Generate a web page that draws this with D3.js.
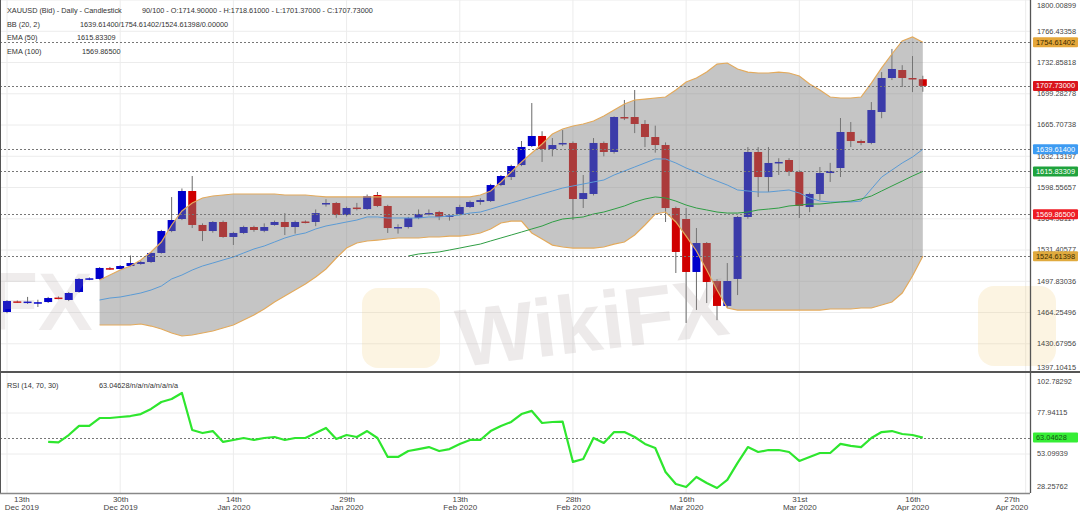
<!DOCTYPE html>
<html>
<head>
<meta charset="utf-8">
<title>XAUUSD Daily Candlestick</title>
<script src="https://d3js.org/d3.v7.min.js"></script>
<style>
  body { margin: 0; background: #fff; }
  svg { display: block; font-family: "Liberation Sans", Arial, sans-serif; }
</style>
</head>
<body>
<svg id="chart" width="1080" height="511"></svg>
<script>
// ---- data (bar 1 = 13 Dec 2019, bar 90 = 17 Apr 2020) ----
var opens = [1464.8,1476.2,1475.3,1474.6,1475.5,1480.3,1477.7,1486.3,1500.0,1500.3,
  1511.9,1511.0,1514.2,1516.4,1518.5,1528.2,1551.8,1564.7,1594.8,1558.3,
  1551.8,1561.5,1545.4,1549.7,1556.1,1552.0,1558.3,1561.5,1556.1,1562.0,
  1561.5,1581.0,1581.9,1569.0,1577.0,1575.4,1590.5,1578.7,1555.0,1556.1,
  1565.8,1570.1,1572.2,1567.0,1570.1,1577.6,1583.0,1584.0,1601.2,1609.8,
  1622.7,1643.1,1653.9,1639.9,1645.3,1646.4,1586.2,1591.6,1646.4,1636.7,
  1674.3,1674.3,1666.8,1652.8,1644.2,1576.5,1564.7,1507.8,1538.9,1498.1,
  1471.3,1500.3,1566.9,1636.7,1609.8,1624.9,1628.1,1615.2,1577.6,1591.6,
  1614.1,1619.5,1658.2,1648.5,1646.4,1679.7,1716.2,1724.8,1716.2,1714.9];
var highs = [1477.5,1477.2,1481.0,1478.0,1481.0,1481.5,1486.3,1501.2,1502.0,1513.0,
  1513.2,1515.2,1525.5,1520.0,1529.0,1553.0,1588.3,1597.5,1610.9,1560.0,
  1562.5,1563.0,1551.0,1557.5,1557.5,1560.0,1563.0,1571.0,1563.0,1563.2,
  1575.0,1586.0,1583.0,1578.0,1582.0,1591.0,1593.7,1580.0,1559.0,1567.0,
  1575.0,1575.0,1573.5,1570.0,1580.0,1584.5,1587.0,1602.5,1612.0,1623.0,
  1648.5,1689.3,1659.0,1651.7,1660.3,1648.0,1612.0,1651.7,1648.0,1675.0,
  1692.6,1703.3,1671.0,1665.0,1647.0,1578.0,1576.5,1555.0,1540.0,1500.0,
  1517.4,1568.0,1642.0,1642.0,1642.0,1630.0,1630.0,1617.0,1593.0,1620.6,
  1625.0,1673.2,1668.9,1650.0,1690.4,1722.6,1747.4,1730.0,1739.8,1718.61];
var lows = [1463.5,1474.5,1473.5,1470.2,1474.5,1478.5,1476.5,1485.5,1499.0,1499.5,
  1510.0,1510.5,1513.5,1515.5,1517.5,1527.5,1550.5,1563.5,1555.0,1541.0,
  1550.0,1544.5,1536.8,1548.5,1551.0,1550.5,1557.5,1547.5,1549.0,1560.0,
  1557.0,1578.0,1566.0,1567.5,1574.0,1574.5,1577.5,1549.7,1549.0,1554.5,
  1564.5,1568.5,1563.5,1563.0,1569.0,1576.5,1580.0,1583.0,1600.0,1606.6,
  1621.5,1642.0,1626.0,1632.0,1643.0,1563.6,1576.5,1590.0,1632.0,1635.0,
  1671.0,1657.0,1642.0,1636.0,1561.5,1506.7,1453.0,1467.0,1474.4,1456.0,
  1469.0,1483.0,1565.0,1588.3,1593.7,1612.0,1611.0,1565.8,1572.0,1585.0,
  1604.5,1609.8,1642.0,1644.0,1645.0,1673.0,1714.0,1706.5,1701.1,1701.37];
var closes = [1476.6,1475.5,1476.0,1475.3,1479.8,1479.3,1485.2,1500.3,1501.0,1512.1,
  1511.0,1514.2,1517.4,1518.5,1528.2,1551.8,1563.6,1594.8,1558.3,1551.8,
  1561.5,1545.4,1549.7,1556.1,1552.9,1556.1,1561.5,1556.1,1561.5,1561.5,
  1571.1,1581.9,1569.0,1576.5,1576.5,1589.4,1578.7,1555.0,1556.1,1565.8,
  1570.1,1571.1,1566.9,1568.5,1577.6,1583.0,1585.1,1601.2,1610.9,1621.6,
  1642.1,1653.9,1639.9,1644.2,1646.4,1586.2,1592.6,1646.4,1636.7,1674.3,
  1673.2,1666.8,1652.8,1644.2,1576.5,1529.3,1507.8,1538.9,1497.0,1471.3,
  1498.1,1566.9,1636.7,1609.8,1624.9,1626.0,1615.2,1578.7,1591.6,1614.1,
  1616.3,1658.2,1648.5,1646.4,1681.8,1716.2,1725.9,1716.2,1715.1,1707.73];

// Bollinger Bands (20, 2), bars 10..90
var bbStart = 10;
var bbUpper = [1499.2,1504.5,1509.9,1514.2,1520.7,1529.3,1540.0,1558.3,1573.3,1581.9,
  1587.3,1589.4,1590.5,1591.6,1591.6,1591.6,1591.6,1591.6,1590.5,1590.5,
  1590.5,1589.4,1588.4,1588.4,1588.4,1588.4,1588.4,1588.4,1588.4,1588.4,
  1588.4,1588.4,1588.4,1588.4,1588.4,1588.4,1588.4,1590.5,1594.8,1604.5,
  1615.2,1626.0,1635.6,1645.3,1656.0,1661.4,1664.6,1666.8,1670.0,1675.4,
  1681.8,1688.3,1692.6,1693.6,1694.7,1695.8,1703.3,1711.9,1716.2,1722.6,
  1731.2,1732.3,1725.9,1722.6,1721.6,1721.6,1722.6,1721.6,1718.3,1709.8,
  1703.3,1695.8,1694.7,1694.7,1695.8,1710.8,1727.0,1742.0,1756.0,1760.3,
  1754.61402];
var bbMiddle = [1477.7,1479.8,1480.9,1483.0,1485.2,1488.4,1492.7,1500.3,1504.5,1509.9,
  1514.2,1517.4,1520.7,1523.9,1528.2,1532.5,1535.7,1540.0,1544.3,1547.5,
  1549.7,1554.0,1557.2,1559.3,1561.5,1563.6,1566.9,1566.9,1565.8,1565.8,
  1565.8,1565.8,1566.9,1566.9,1568.0,1569.0,1571.1,1572.2,1575.4,1578.7,
  1581.9,1585.1,1588.4,1591.6,1594.8,1598.0,1600.2,1602.3,1604.5,1606.6,
  1612.0,1616.3,1620.6,1624.9,1629.2,1629.2,1624.9,1619.5,1615.2,1609.8,
  1605.5,1601.2,1595.9,1594.8,1593.7,1593.7,1594.8,1595.9,1592.6,1587.3,
  1584.0,1583.0,1583.0,1583.0,1584.0,1596.9,1609.8,1617.3,1624.9,1631.3,
  1639.614];
var bbLower = [1450.8,1450.8,1450.8,1450.8,1451.9,1449.7,1446.5,1442.2,1439.0,1440.1,
  1442.2,1444.4,1447.6,1450.8,1456.2,1461.6,1468.0,1475.5,1482.0,1488.4,
  1494.9,1502.4,1511.0,1522.8,1533.5,1538.9,1541.1,1542.1,1543.2,1544.3,
  1544.3,1544.3,1545.4,1545.4,1546.4,1546.4,1547.5,1549.7,1554.0,1560.4,
  1562.5,1562.5,1549.7,1543.2,1536.7,1534.6,1533.5,1533.5,1533.5,1534.6,
  1537.8,1540.0,1547.5,1558.3,1570.1,1572.2,1561.5,1546.4,1530.3,1509.9,
  1488.4,1469.1,1466.9,1466.9,1466.9,1466.9,1466.9,1466.9,1466.9,1466.9,
  1466.9,1468.0,1468.0,1468.0,1469.1,1469.1,1472.3,1475.5,1485.2,1503.5,
  1524.61398];

// EMA (50), bars 40..90
var emaStart = 40;
var ema50 = [1524.9,1527.1,1528.2,1529.3,1531.4,1533.5,1535.7,1537.8,1541.1,1544.3,
  1547.5,1550.7,1554.0,1557.2,1561.5,1564.7,1565.8,1566.9,1570.1,1572.2,
  1575.4,1578.7,1583.0,1586.2,1588.4,1587.3,1584.0,1579.7,1576.5,1574.4,
  1572.2,1571.1,1571.1,1572.2,1574.4,1575.4,1576.5,1578.7,1579.7,1580.8,
  1580.8,1581.9,1583.0,1584.0,1586.2,1589.4,1594.8,1600.2,1605.5,1610.9,
  1615.83309];
var ema100Last = 1569.865;

// RSI (14), bars 5..90
var rsiStart = 5;
var rsi = [60.4,60.1,64.6,70.1,70.1,74.9,74.9,75.5,76.1,77.3,
  80.4,84.6,86.4,90.1,67.6,65.8,67.0,60.4,61.6,62.8,
  61.6,62.8,63.4,61.6,62.8,62.8,65.8,68.9,62.2,64.6,
  63.4,67.0,62.8,51.3,51.3,54.9,56.1,57.3,54.9,56.1,
  59.2,61.6,61.6,67.0,70.1,72.5,77.3,79.2,71.9,72.5,
  72.7,48.3,50.1,62.8,59.8,66.4,66.4,63.4,59.2,56.7,
  42.2,34.9,33.1,39.2,35.5,32.5,37.4,47.7,57.3,54.3,
  55.5,55.5,54.3,48.9,51.3,53.7,53.7,59.2,58.0,57.3,
  62.8,66.4,67.0,65.2,64.6,63.04628];

var priceTicks = [1397.10415,1430.67956,1464.25496,1497.83036,1531.40577,1564.98117,
  1598.55657,1632.13197,1665.70738,1699.28278,1732.85818,1766.43358,1800.00899];
var rsiTicks = [28.25762,53.09939,77.94115,102.78292];
var tickBars = [1,12,23,34,45,56,67,78,89,100];
var tickDay = ["13th","30th","14th","29th","13th","28th","16th","31st","16th","27th"];
var tickMonth = ["Dec 2019","Dec 2019","Jan 2020","Jan 2020","Feb 2020","Feb 2020",
  "Mar 2020","Mar 2020","Apr 2020","Apr 2020"];

var tagValues = [1754.61402, closes[89], 1639.614, 1615.83309, ema100Last, 1524.61398];
var tagFill = ["#e5a73a","#d9141b","#3d9bf2","#1fa33d","#ee1c24","#e0aa3e"];
var tagInk = ["#3a2a00","#fff","#fff","#fff","#fff","#3a2a00"];

// ---- layout ----
var svg = d3.select("#chart");
var plotRight = 1030, mainBottom = 372, rsiTop = 373, rsiBottom = 493;
var fmt = d3.format(".5f");

var x = d3.scaleLinear().domain([1, 100]).range([7, 1025.7]);
var y = d3.scaleLinear().domain([1397.10415, 1800.00899]).range([375, 0]);
var yr = d3.scaleLinear().domain([28.25762, 102.78292]).range([495, 372]);

var defs = svg.append("defs");
defs.append("clipPath").attr("id", "clipMain")
  .append("rect").attr("x", 0).attr("y", 0).attr("width", plotRight).attr("height", mainBottom);
defs.append("clipPath").attr("id", "clipRsi")
  .append("rect").attr("x", 0).attr("y", rsiTop).attr("width", plotRight).attr("height", rsiBottom - rsiTop);

var main = svg.append("g").attr("clip-path", "url(#clipMain)");
var lower = svg.append("g").attr("clip-path", "url(#clipRsi)");

// grid
main.selectAll(".hgrid").data(priceTicks).join("line")
  .attr("x1", 0).attr("x2", plotRight).attr("y1", function(d) { return y(d); }).attr("y2", function(d) { return y(d); })
  .attr("stroke", "#ececec");
lower.selectAll(".hgrid").data(rsiTicks).join("line")
  .attr("x1", 0).attr("x2", plotRight).attr("y1", function(d) { return yr(d); }).attr("y2", function(d) { return yr(d); })
  .attr("stroke", "#ececec");
[main, lower].forEach(function(g) {
  g.selectAll(".vgrid").data(tickBars).join("line")
    .attr("x1", function(d) { return x(d); }).attr("x2", function(d) { return x(d); })
    .attr("y1", 0).attr("y2", rsiBottom)
    .attr("stroke", "#ececec");
});

// candles
var candles = opens.map(function(o, i) {
  return { bar: i + 1, o: o, h: highs[i], l: lows[i], c: closes[i] };
});
main.selectAll(".wick").data(candles).join("line")
  .attr("x1", function(d) { return x(d.bar); }).attr("x2", function(d) { return x(d.bar); })
  .attr("y1", function(d) { return y(d.h); }).attr("y2", function(d) { return y(d.l); })
  .attr("stroke", "#6a6a6a").attr("stroke-width", 1);
main.selectAll(".body").data(candles).join("rect")
  .attr("x", function(d) { return x(d.bar) - 4; })
  .attr("width", 8)
  .attr("y", function(d) { return y(Math.max(d.o, d.c)); })
  .attr("height", function(d) { return Math.max(1.5, Math.abs(y(d.o) - y(d.c))); })
  .attr("fill", function(d) { return d.c >= d.o ? "#0000cc" : "#d00000"; });

// bollinger band
var bb = bbUpper.map(function(u, i) {
  return { bar: bbStart + i, up: u, mid: bbMiddle[i], lo: bbLower[i] };
});
main.append("path").datum(bb)
  .attr("d", d3.area().x(function(d) { return x(d.bar); })
    .y0(function(d) { return y(d.lo); }).y1(function(d) { return y(d.up); }))
  .attr("fill", "#808080").attr("fill-opacity", 0.46);
["up", "lo"].forEach(function(k) {
  main.append("path").datum(bb)
    .attr("d", d3.line().x(function(d) { return x(d.bar); }).y(function(d) { return y(d[k]); }))
    .attr("fill", "none").attr("stroke", "#e3aa5c").attr("stroke-width", 1.2);
});
main.append("path").datum(bb)
  .attr("d", d3.line().x(function(d) { return x(d.bar); }).y(function(d) { return y(d.mid); }))
  .attr("fill", "none").attr("stroke", "#5b9bd5").attr("stroke-width", 1);

var ema = ema50.map(function(v, i) { return { bar: emaStart + i, v: v }; });
main.append("path").datum(ema)
  .attr("d", d3.line().x(function(d) { return x(d.bar); }).y(function(d) { return y(d.v); }))
  .attr("fill", "none").attr("stroke", "#2f9e44").attr("stroke-width", 1);

// dotted reference lines
main.selectAll(".ref").data(tagValues).join("line")
  .attr("x1", 0).attr("x2", plotRight)
  .attr("y1", function(d) { return Math.round(y(d)) + 0.5; }).attr("y2", function(d) { return Math.round(y(d)) + 0.5; })
  .attr("stroke", "#777").attr("stroke-dasharray", "2,2");

// rsi
var rsiPts = rsi.map(function(v, i) { return { bar: rsiStart + i, v: v }; });
var rsiLast = rsi[rsi.length - 1];
lower.append("line").attr("x1", 0).attr("x2", plotRight)
  .attr("y1", Math.round(yr(rsiLast)) + 0.5).attr("y2", Math.round(yr(rsiLast)) + 0.5)
  .attr("stroke", "#777").attr("stroke-dasharray", "2,2");
lower.append("path").datum(rsiPts)
  .attr("d", d3.line().x(function(d) { return x(d.bar); }).y(function(d) { return yr(d.v); }))
  .attr("fill", "none").attr("stroke", "#2ee62e").attr("stroke-width", 2.2)
  .attr("stroke-linejoin", "round");

// watermark
var wm = svg.append("g").attr("pointer-events", "none");
wm.append("rect").attr("x", 362).attr("y", 288).attr("width", 78).attr("height", 80).attr("rx", 16)
  .attr("fill", "#f3cf7a").attr("opacity", 0.22);
wm.append("text").attr("x", 455).attr("y", 352).attr("transform", "rotate(-7,580,315)")
  .attr("font-size", 82).attr("font-weight", "bold").attr("fill", "#a89c9c").attr("opacity", 0.2)
  .text("WikiFX");
wm.append("text").attr("x", -12).attr("y", 330)
  .attr("font-size", 82).attr("font-weight", "bold").attr("fill", "#a89c9c").attr("opacity", 0.18)
  .text("FX");
wm.append("rect").attr("x", 978).attr("y", 286).attr("width", 78).attr("height", 80).attr("rx", 16)
  .attr("fill", "#f3cf7a").attr("opacity", 0.22);

// frames
svg.append("line").attr("x1", 0.5).attr("x2", 0.5).attr("y1", 0).attr("y2", rsiBottom).attr("stroke", "#555");
svg.append("line").attr("x1", plotRight + 0.5).attr("x2", plotRight + 0.5).attr("y1", 0).attr("y2", rsiBottom)
  .attr("stroke", "#555").attr("stroke-width", 1.3);
svg.append("line").attr("x1", 0).attr("x2", 1080).attr("y1", mainBottom).attr("y2", mainBottom)
  .attr("stroke", "#555").attr("stroke-width", 2);
svg.append("line").attr("x1", 0).attr("x2", plotRight).attr("y1", rsiBottom + 0.5).attr("y2", rsiBottom + 0.5)
  .attr("stroke", "#888").attr("stroke-width", 1.3);

// right axes
function rightAxis(scale, ticks, lo, hi) {
  var g = svg.append("g").attr("transform", "translate(" + plotRight + ",0)")
    .call(d3.axisRight(scale).tickValues(ticks).tickSize(0).tickPadding(7).tickFormat(fmt));
  g.select(".domain").remove();
  g.selectAll(".tick").attr("transform", function(d) {
    return "translate(0," + Math.max(lo, Math.min(hi, scale(d))) + ")";
  });
  g.selectAll("text").attr("font-size", 7.4).attr("fill", "#444")
    .attr("font-family", "Liberation Sans, Arial, sans-serif");
}
rightAxis(y, priceTicks, 6, 368);
rightAxis(yr, rsiTicks, 382, 487);

// value tags
var tags = svg.append("g");
tagValues.forEach(function(v, i) {
  var ty = y(v);
  tags.append("rect").attr("x", plotRight + 3).attr("y", ty - 5).attr("width", 45).attr("height", 10)
    .attr("rx", 1).attr("fill", tagFill[i]);
  tags.append("text").attr("x", plotRight + 6).attr("y", ty + 2.6)
    .attr("font-size", 7.4).attr("fill", tagInk[i]).text(fmt(v));
});
tags.append("rect").attr("x", plotRight + 3).attr("y", yr(rsiLast) - 5).attr("width", 45).attr("height", 10)
  .attr("rx", 1).attr("fill", "#36ee36");
tags.append("text").attr("x", plotRight + 6).attr("y", yr(rsiLast) + 2.6)
  .attr("font-size", 7.4).attr("fill", "#145214").text(fmt(rsiLast));

// bottom date axis
var gx = svg.append("g").attr("transform", "translate(0," + rsiBottom + ")")
  .call(d3.axisBottom(x).tickValues(tickBars).tickSize(0).tickFormat(""));
gx.select(".domain").remove();
gx.selectAll(".tick text").remove();
gx.selectAll(".tick").each(function(d, i) {
  var t = d3.select(this).append("text").attr("font-size", 8).attr("fill", "#444")
    .attr("text-anchor", "middle").attr("font-family", "Liberation Sans, Arial, sans-serif");
  t.append("tspan").attr("x", 0).attr("y", 9).text(tickDay[i]);
  t.append("tspan").attr("x", 0).attr("y", 17).text(tickMonth[i]);
  var w = this.getBBox().width;
  var cx = x(d);
  var shift = Math.max(4 + w / 2, Math.min(plotRight - w / 2 - 2, cx)) - cx;
  t.attr("transform", "translate(" + shift + ",0)");
});

// legends
var leg = svg.append("g").attr("font-size", 7.3).attr("fill", "#333");
var last = candles[candles.length - 1];
var legendRows = [
  ["XAUUSD (Bid) - Daily - Candlestick", 142, "90/100 - O:" + fmt(last.o) + " - H:" + fmt(last.h) +
    " - L:" + fmt(last.l) + " - C:" + fmt(last.c), 12.5],
  ["BB (20, 2)", 80, fmt(bbMiddle[bbMiddle.length - 1]) + "/" + fmt(bbUpper[bbUpper.length - 1]) + "/" +
    fmt(bbLower[bbLower.length - 1]) + "/0.00000", 26.5],
  ["EMA (50)", 77, fmt(ema50[ema50.length - 1]), 39.5],
  ["EMA (100)", 82, fmt(ema100Last), 53.5],
  ["RSI (14, 70, 30)", 99, fmt(rsiLast) + "/n/a/n/a/n/a/n/a", 387.5]
];
legendRows.forEach(function(r) {
  leg.append("text").attr("x", 7).attr("y", r[3]).text(r[0]);
  leg.append("text").attr("x", r[1]).attr("y", r[3]).text(r[2]);
});
</script>
</body>
</html>
